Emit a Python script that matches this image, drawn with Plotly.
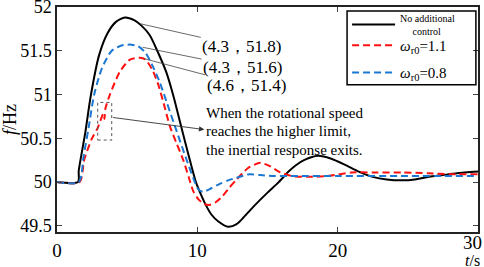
import plotly.graph_objects as go

# ---- data ----
t_black = [0, 1.5, 1.55, 2.0, 2.4, 3.0, 3.6, 4.2, 4.84, 5.5, 6.0, 6.6, 7.2, 7.8, 8.3, 8.87, 9.47,
           9.9, 10.2, 10.6, 11.0, 11.5, 12.2, 12.8, 13.2, 14.0, 15.0, 15.8, 16.5, 17.0, 17.6,
           18.6, 19.5, 20.5, 21.5, 22.5, 23.5, 24.6, 25.5, 26.5, 27.5, 28.5, 30]
f_black = [50, 50, 50.13, 50.55, 50.98, 51.45, 51.7, 51.83, 51.88, 51.85, 51.79, 51.68, 51.48,
           51.25, 50.98, 50.62, 50.25, 50.0, 49.88, 49.74, 49.63, 49.55, 49.49, 49.52, 49.58,
           49.72, 49.88, 50.0, 50.12, 50.19, 50.25, 50.3, 50.27, 50.2, 50.12, 50.06, 50.03,
           50.02, 50.03, 50.06, 50.08, 50.1, 50.12]

t_red = [0, 1.6, 1.95, 2.47, 2.9, 3.3, 3.38, 3.45, 3.77, 4.48, 5.2, 5.9, 6.3, 6.8, 7.2, 7.6,
         8.04, 8.5, 9.0, 9.4, 9.7, 10.1, 10.5, 10.9, 11.3, 11.8, 12.3, 12.8, 13.2, 13.7, 14.5,
         15.2, 15.8, 16.7, 17.9, 19.3, 21, 22.6, 24.6, 26.5, 28.1, 30]
f_red = [50, 50, 50.26, 50.49, 50.62, 50.78, 50.72, 50.84, 51.0, 51.26, 51.4, 51.42, 51.4,
         51.28, 51.12, 50.9, 50.64, 50.45, 50.25, 50.05, 49.9, 49.8, 49.75, 49.74, 49.77,
         49.84, 49.94, 50.03, 50.1, 50.17, 50.22, 50.18, 50.12, 50.07, 50.06, 50.07, 50.11,
         50.11, 50.11, 50.1, 50.09, 50.09]

t_blue = [0, 1.55, 1.9, 2.25, 2.65, 3.2, 3.9, 4.6, 5.3, 5.8, 6.3, 6.8, 7.3, 7.8, 8.4, 9.2,
          9.7, 10.06, 10.4, 11.0, 11.6, 12.2, 12.8, 13.7, 14.5, 15.5, 17, 20, 25, 30]
f_blue = [50, 50, 50.3, 50.62, 51.0, 51.3, 51.5, 51.56, 51.57, 51.55, 51.48, 51.33, 51.15,
          50.92, 50.64, 50.27, 50.05, 49.92, 49.89, 49.93, 49.98, 50.02, 50.05, 50.09, 50.08,
          50.07, 50.07, 50.07, 50.07, 50.07]

names = ["<span style='font-size:10px'>No additional<br>&nbsp;&nbsp;&nbsp;&nbsp;&nbsp;control</span>",
         "<i>ω</i><sub>r0</sub>=1.1", "<i>ω</i><sub>r0</sub>=0.8"]

peak_labels = ["(4.3，51.8)", "(4.3，51.6)", "(4.6，51.4)"]
peak_points_t = [5.9, 6.1, 6.2]
peak_points_f = [51.81, 51.54, 51.41]

note_lines = ["When the rotational speed", "reaches the higher limit,",
              "the inertial response exits."]
note_t = 10.5
note_f = [50.79, 50.58, 50.37]
box_t = [2.9, 3.9]
box_f = [50.48, 50.91]
arrow_from = (3.89, 50.74)
arrow_to = (10.5, 50.6)

x_ticks = [0, 10, 20, 30]
x_ticktext = ["0", "10", "20", "30"]
y_ticks = [49.5, 50, 50.5, 51, 51.5, 52]
y_ticktext = ["49.5", "50", "50.5", "51", "51.5", "52"]

FONT = "Liberation Serif, Times New Roman, serif"

fig = go.Figure()
fig.add_trace(go.Scatter(x=t_black, y=f_black, mode="lines", name=names[0], legend="legend",
                         line=dict(color="black", width=2, shape="spline", smoothing=0.7)))
fig.add_trace(go.Scatter(x=t_red, y=f_red, mode="lines", name=names[1], legend="legend2",
                         line=dict(color="#ff1010", width=2, dash="7px,4px",
                                   shape="spline", smoothing=0.7)))
fig.add_trace(go.Scatter(x=t_blue, y=f_blue, mode="lines", name=names[2], legend="legend3",
                         line=dict(color="#1a78d2", width=2, dash="7px,4px",
                                   shape="spline", smoothing=0.7)))

# dotted box
fig.add_shape(type="rect", x0=box_t[0], x1=box_t[1], y0=box_f[0], y1=box_f[1],
              xref="x", yref="y", line=dict(color="#555", width=1, dash="dot"))

# legend frame
fig.add_shape(type="rect", xref="paper", yref="paper", x0=0.689, x1=0.995, y0=0.655,
              y1=0.982, line=dict(color="black", width=1.5), fillcolor="rgba(0,0,0,0)")

# arrow from box to note
fig.add_annotation(x=arrow_to[0], y=arrow_to[1], ax=arrow_from[0], ay=arrow_from[1],
                   axref="x", ayref="y", xref="x", yref="y", text="", showarrow=True,
                   arrowhead=2, arrowsize=1.2, arrowwidth=0.9, arrowcolor="#333")

for line, fy in zip(note_lines, note_f):
    fig.add_annotation(x=note_t, y=fy, xref="x", yref="y", text=line, showarrow=False,
                       xanchor="left", yanchor="middle",
                       font=dict(family=FONT, size=15, color="black"))

# peak labels with leader lines
offsets = [(102, 23), (100, 20), (102, 27)]
for lab, pt, pf, (ox, oy) in zip(peak_labels, peak_points_t, peak_points_f, offsets):
    fig.add_annotation(x=pt, y=pf, xref="x", yref="y", text=lab, showarrow=True,
                       ax=ox, ay=oy, arrowhead=0, arrowwidth=0.8, arrowcolor="#444",
                       font=dict(family=FONT, size=17, color="black"))

# last x tick label kept inside the page
fig.add_annotation(x=x_ticks[-1], y=0, xref="x", yref="paper", text=x_ticktext[-1],
                   showarrow=False, xanchor="right", yanchor="top", xshift=6, yshift=2,
                   font=dict(family=FONT, size=19, color="black"))

fig.add_annotation(x=1, y=-0.155, xref="paper", yref="paper", text="<i>t</i>/s",
                   showarrow=False, xanchor="right", yanchor="bottom", xshift=4, yshift=-4,
                   font=dict(family=FONT, size=16, color="black"))

leg_common = dict(xanchor="left", yanchor="middle", bgcolor="rgba(0,0,0,0)",
                  borderwidth=0, itemwidth=43)
fig.update_layout(
    width=484, height=267, autosize=False,
    margin=dict(l=57, r=6, t=6, b=35),
    paper_bgcolor="white", plot_bgcolor="white",
    font=dict(family=FONT, size=18, color="black"),
    showlegend=True,
    legend=dict(x=0.689, y=0.918, font=dict(family=FONT, size=10, color="black"),
                **leg_common),
    legend2=dict(x=0.689, y=0.825, font=dict(family=FONT, size=15, color="black"),
                 **leg_common),
    legend3=dict(x=0.689, y=0.705, font=dict(family=FONT, size=15, color="black"),
                 **leg_common),
)
fig.update_xaxes(range=[0, 30], tickvals=x_ticks[:-1], ticktext=x_ticktext[:-1],
                 ticks="inside", ticklen=5,
                 showline=True, linecolor="#222", linewidth=1.5, mirror="ticks",
                 showgrid=False, zeroline=False, automargin=False,
                 tickfont=dict(family=FONT, size=19, color="black"))
fig.update_yaxes(range=[49.43, 52.0], tickvals=y_ticks, ticktext=y_ticktext,
                 ticks="inside", ticklen=5, showline=True, linecolor="#222", linewidth=1.5,
                 mirror="ticks", showgrid=False, zeroline=False, automargin=False,
                 ticklabeloverflow="allow",
                 tickfont=dict(family=FONT, size=18, color="black"),
                 title=dict(text="<i>f</i>/Hz", font=dict(family=FONT, size=18), standoff=4))

fig.write_html("out.html", config={"displayModeBar": False},
               post_script="document.body.style.margin='0';")
